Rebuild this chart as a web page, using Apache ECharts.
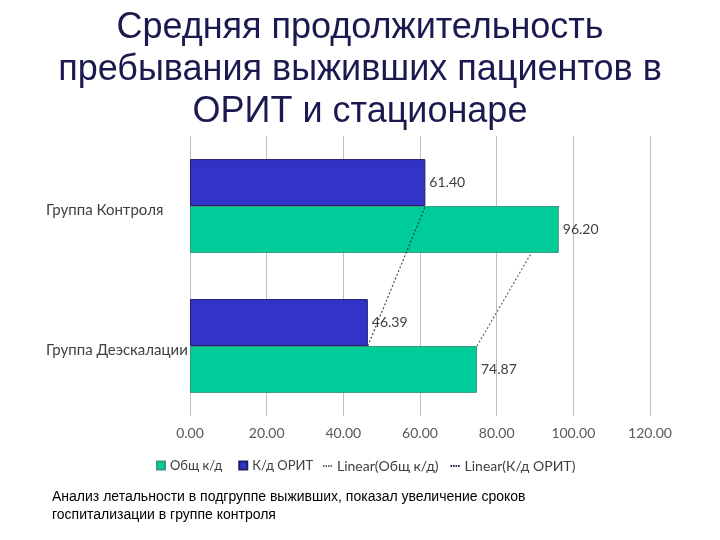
<!DOCTYPE html>
<html><head><meta charset="utf-8">
<script src="https://cdn.jsdelivr.net/npm/echarts@6/dist/echarts.min.js"></script>
<style>html,body{margin:0;padding:0;background:#fff}#c{width:720px;height:540px}</style>
</head><body><div id="c"></div>
<script>
const categories = ['Группа Деэскалации', 'Группа Контроля'];
const totalStay = [74.87, 96.20];   // Общ к/д
const icuStay = [46.39, 61.40];     // К/д ОРИТ
const xTicks = [0, 20, 40, 60, 80, 100, 120];
const seriesNames = ['Общ к/д', 'К/д ОРИТ', 'Linear(Общ к/д)', 'Linear(К/д ОРИТ)'];
const titleLines = ['Средняя продолжительность', 'пребывания выживших пациентов в', 'ОРИТ и стационаре'];
const noteLines = ['Анализ летальности в подгруппе выживших, показал увеличение сроков', 'госпитализации в группе контроля'];

function linearFit(vals) {
  const n = vals.length;
  let sx = 0, sy = 0, sxx = 0, sxy = 0;
  vals.forEach((v, i) => { sx += i; sy += v; sxx += i * i; sxy += i * v; });
  const b = (n * sxy - sx * sy) / (n * sxx - sx * sx);
  const a = (sy - b * sx) / n;
  return vals.map((v, i) => [a + b * i, categories[i]]);
}

const FONT = 'Lato';
const dotted = 'path://M0,0h1.5v2h-1.5z M2.5,0h1.5v2h-1.5z M5,0h1.5v2h-1.5z M7.5,0h1.5v2h-1.5z';
const titleGraphics = titleLines.map((t, i) => ({
  type: 'text', left: 'center', top: 10 + i * 42,
  style: { text: t, fill: '#1a1a50', font: '36px "Liberation Sans", Arial, sans-serif' }
}));
const labelCfg = { show: true, position: 'right', distance: 4, formatter: p => p.value.toFixed(2),
                   fontFamily: FONT, fontSize: 14, color: '#404040' };

const chart = echarts.init(document.getElementById('c'));
chart.setOption({
  animation: false,
  backgroundColor: '#fff',
  graphic: titleGraphics.concat([
    { type: 'text', left: 52, top: 488,
      style: { text: noteLines.join('\n'), fill: '#000', font: '14px "Liberation Sans", Arial, sans-serif',
               lineHeight: 18 } }
  ]),
  grid: { left: 190, right: 70, top: 136, bottom: 124, containLabel: false },
  legend: [
    { top: 454, left: 151, itemWidth: 8, itemHeight: 8, itemGap: 16, itemTextGap: 3,
      textStyle: { fontFamily: FONT, fontSize: 13, color: '#404040' },
      data: [ { name: seriesNames[0], icon: 'rect' }, { name: seriesNames[1], icon: 'rect' } ] },
    { top: 454, left: 318, itemWidth: 9, itemHeight: 2, itemGap: 12, itemTextGap: 2,
      textStyle: { fontFamily: FONT, fontSize: 14, color: '#404040' },
      data: [ { name: seriesNames[2], icon: dotted }, { name: seriesNames[3], icon: dotted } ] }
  ],
  xAxis: {
    type: 'value', min: xTicks[0], max: xTicks[xTicks.length - 1], interval: xTicks[1] - xTicks[0],
    axisLine: { show: false }, axisTick: { show: false },
    splitLine: { show: true, lineStyle: { color: '#bfbfbf', width: 1 } },
    axisLabel: { formatter: v => v.toFixed(2), fontFamily: FONT, fontSize: 14, color: '#595959', margin: 10 }
  },
  yAxis: {
    type: 'category', data: categories,
    axisLine: { show: false }, axisTick: { show: false },
    axisLabel: { align: 'left', margin: 144, lineHeight: 26, verticalAlign: 'top', padding: [-9, 0, 0, 0],
                 fontFamily: FONT, fontSize: 15, color: '#404040' }
  },
  series: [
    { name: seriesNames[1], type: 'bar', data: icuStay, barGap: '0%', barCategoryGap: '33%', z: 3,
      itemStyle: { color: '#3333c8', borderColor: '#1e1e6a', borderWidth: 1 }, label: labelCfg },
    { name: seriesNames[0], type: 'bar', data: totalStay, barGap: '0%', barCategoryGap: '33%', z: 3,
      itemStyle: { color: '#00cc99', borderColor: '#3a9a80', borderWidth: 1 }, label: labelCfg },
    { name: seriesNames[2], type: 'line', data: linearFit(totalStay), symbol: 'none', z: 1,
      itemStyle: { color: '#666' }, lineStyle: { color: '#666', width: 1.2, type: [2, 2] } },
    { name: seriesNames[3], type: 'line', data: linearFit(icuStay), symbol: 'none', z: 5,
      itemStyle: { color: '#1a1a40' }, lineStyle: { color: '#1a1a40', width: 1.2, type: [2, 2], opacity: 0.8 } }
  ]
});
</script></body></html>
